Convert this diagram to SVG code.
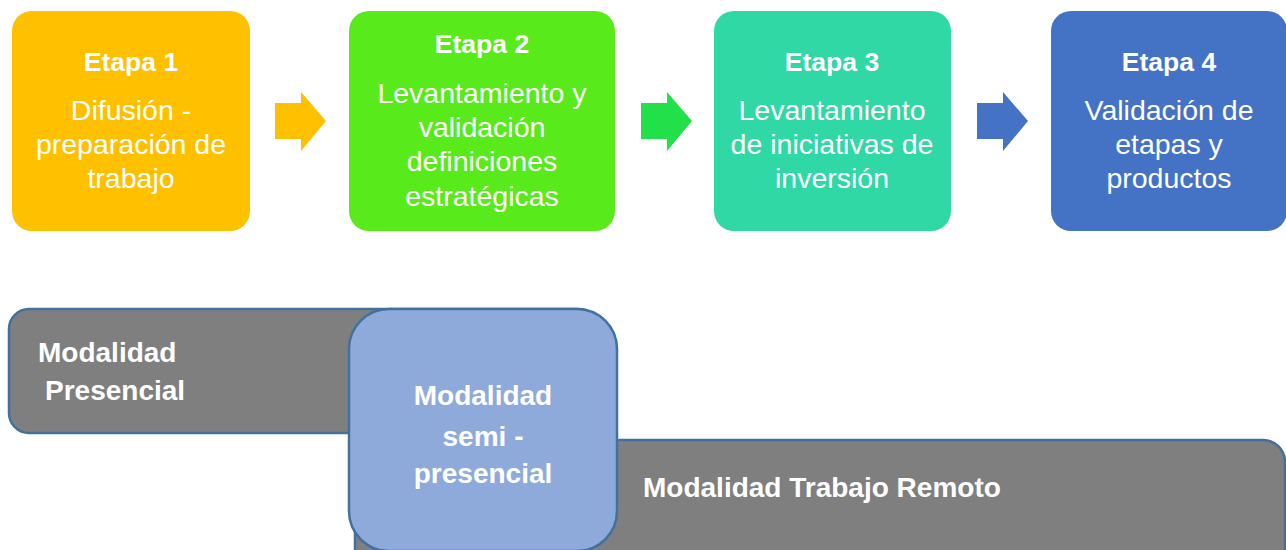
<svg xmlns="http://www.w3.org/2000/svg" width="1286" height="550" viewBox="0 0 1286 550">
<style>
text{font-family:"Liberation Sans",Arial,sans-serif;fill:#fff;text-anchor:middle}
.h{font-weight:bold;font-size:26.5px}
.t{font-size:28.5px}
.m{font-weight:bold;font-size:28px}
.mod{fill:#7f7f7f;stroke:#41719c;stroke-width:2.5}
</style>
<rect width="1286" height="550" fill="#fff"/>
<g id="etapa1">
<rect x="12" y="11" width="238" height="220" rx="20" fill="#ffc000"/>
<text class="h" x="131" y="71">Etapa 1</text>
<text class="t" x="131" y="120">Difusión -</text>
<text class="t" x="131" y="154">preparación de</text>
<text class="t" x="131" y="188">trabajo</text>
</g>
<g id="etapa2">
<rect x="349" y="11" width="266" height="220" rx="20" fill="#58ea1a"/>
<text class="h" x="482" y="53">Etapa 2</text>
<text class="t" x="482" y="103">Levantamiento y</text>
<text class="t" x="482" y="137">validación</text>
<text class="t" x="482" y="171">definiciones</text>
<text class="t" x="482" y="206">estratégicas</text>
</g>
<g id="etapa3">
<rect x="714" y="11" width="237" height="220" rx="20" fill="#2fd8a4"/>
<text class="h" x="832" y="71">Etapa 3</text>
<text class="t" x="832" y="120">Levantamiento</text>
<text class="t" x="832" y="154">de iniciativas de</text>
<text class="t" x="832" y="188">inversión</text>
</g>
<g id="etapa4">
<rect x="1051" y="11" width="236" height="220" rx="20" fill="#4472c4"/>
<text class="h" x="1169" y="71">Etapa 4</text>
<text class="t" x="1169" y="120">Validación de</text>
<text class="t" x="1169" y="154">etapas y</text>
<text class="t" x="1169" y="188">productos</text>
</g>
<g id="connectors">
<polygon points="275,103 301,103 301,92 326,121 301,151 301,139 275,139" fill="#ffc000"/>
<polygon points="641,103 667,103 667,92 692,121 667,151 667,139 641,139" fill="#22e04a"/>
<polygon points="977,103 1003,103 1003,92 1028,121 1003,151 1003,139 977,139" fill="#4472c4"/>
</g>
<g id="presencial">
<rect class="mod" x="9" y="309" width="590" height="124" rx="20"/>
<text class="m" x="38" y="362" style="text-anchor:start">Modalidad</text>
<text class="m" x="45" y="400" style="text-anchor:start">Presencial</text>
</g>
<g id="remoto">
<rect class="mod" x="355" y="440" width="930" height="180" rx="22"/>
<text class="m" x="643" y="497" style="text-anchor:start">Modalidad Trabajo Remoto</text>
</g>
<g id="semipresencial">
<rect x="349" y="309" width="268" height="242" rx="40" fill="#8eaadb" stroke="#41719c" stroke-width="2.5"/>
<text class="m" x="483" y="405">Modalidad</text>
<text class="m" x="483" y="446">semi -</text>
<text class="m" x="483" y="483">presencial</text>
</g>
</svg>
